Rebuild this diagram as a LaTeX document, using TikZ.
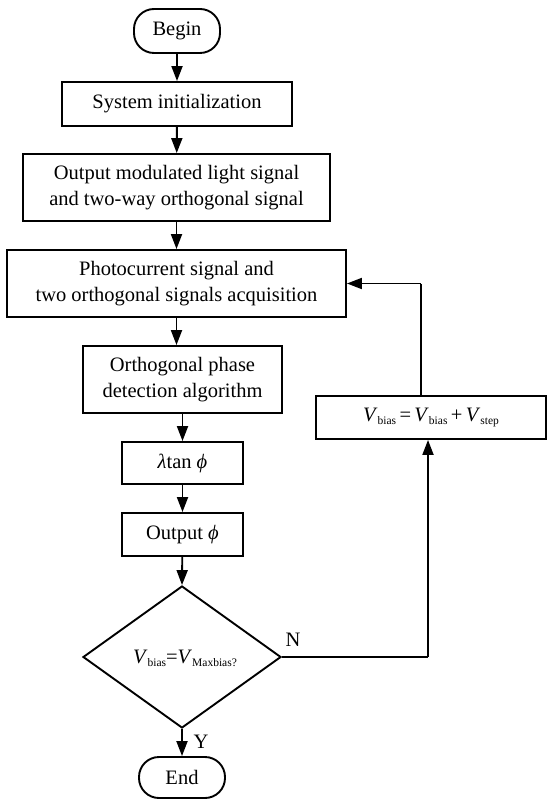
\documentclass[tikz,border=0pt]{standalone}
\usepackage{fontspec}
\setmainfont{Liberation Serif}
\usetikzlibrary{shapes.geometric,arrows.meta}
\newcommand{\lowsub}[1]{\raisebox{-3pt}{\fontsize{11.5}{12}\selectfont #1}}
\begin{document}
\begin{tikzpicture}[x=1pt,y=-1pt,
  font=\fontsize{20.5}{26.5}\selectfont,
  box/.style={draw,line width=1.9pt,rectangle,inner sep=0pt,align=center},
  term/.style={box,rounded corners=20pt},
  dec/.style={draw,line width=1.9pt,diamond,inner sep=0pt,minimum width=198pt,minimum height=142pt},
  arr/.style={line width=1.9pt,-{Triangle[length=15pt,width=11pt]}},
  ln/.style={line width=1.9pt},
  lbl/.style={inner sep=0pt}]
\useasboundingbox (0,0) rectangle (548,799);
\node[term,minimum width=86pt,minimum height=44pt] (begin) at (177,31) {Begin};
\node[box,minimum width=230pt,minimum height=44pt] (init) at (177,104) {System initialization};
\node[box,minimum width=307pt,minimum height=67pt] (out) at (176.5,187.5) {Output modulated light signal\\and two-way orthogonal signal};
\node[box,minimum width=339pt,minimum height=67pt] (photo) at (176.5,283.5) {Photocurrent signal and\\two orthogonal signals acquisition};
\node[box,minimum width=199pt,minimum height=67pt] (ortho) at (182.5,379.5) {Orthogonal phase\\detection algorithm};
\node[box,minimum width=121pt,minimum height=42pt] (lam) at (182.5,463) {\textit{λ}tan \textit{ϕ}};
\node[box,minimum width=121pt,minimum height=43pt] (outphi) at (182.5,534.5) {Output \textit{ϕ}};
\node[dec] (dec) at (182,657) {};
\node[lbl] (dectext) at (185,658) {\textit{V}\lowsub{bias}=\textit{V}\lowsub{Maxbias?}};
\node[term,minimum width=86pt,minimum height=41pt] (end) at (182,777.5) {End};
\node[box,minimum width=230pt,minimum height=43pt] (vb) at (431,417.5) {\textit{V}\lowsub{bias}\,=\,\textit{V}\lowsub{bias}\,+\,\textit{V}\lowsub{step}};
\node[lbl] (nl) at (293,640) {N};
\node[lbl] (yl) at (201,742) {Y};
\coordinate (nturn) at (428,657);
\coordinate (upturn) at (421,283.5);
\draw[arr] (begin) -- (init);
\draw[arr] (init) -- (out);
\draw[arr] (out) -- (photo);
\draw[arr] (photo.south) -- (photo.south |- ortho.north);
\draw[arr] (ortho) -- (lam);
\draw[arr] (lam) -- (outphi);
\draw[arr] (outphi) -- (dec.north);
\draw[arr] (dec.south) -- (end.north);
\draw[ln] (dec.east) -- (nturn);
\draw[arr] (nturn) -- (nturn |- vb.south);
\draw[ln] (upturn |- vb.north) -- (upturn);
\draw[arr] (upturn) -- (photo.east);
\end{tikzpicture}
\end{document}
